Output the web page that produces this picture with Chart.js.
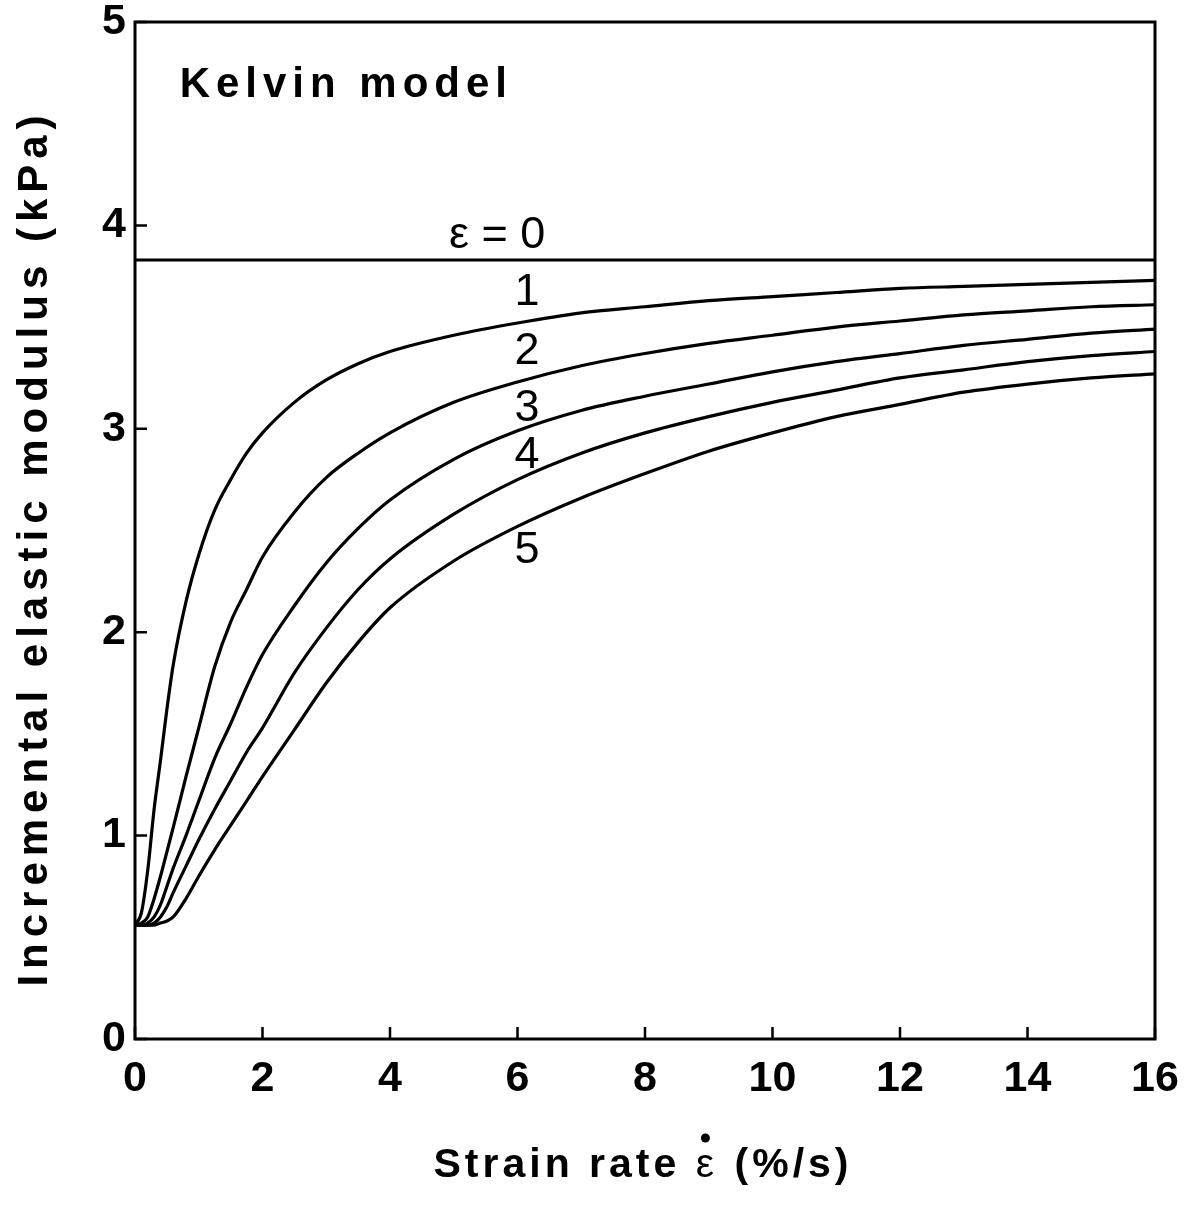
<!DOCTYPE html>
<html>
<head>
<meta charset="utf-8">
<title>Kelvin model</title>
<script src="https://cdn.jsdelivr.net/npm/chart.js@4.4.1/dist/chart.umd.min.js"></script>
<style>
	html, body { margin: 0; padding: 0; background: #ffffff; }
	#wrap { width: 1201px; height: 1206px; }
</style>
</head>
<body>
<div id="wrap"><canvas id="chart" width="1201" height="1206"></canvas></div>
<script>
(function () {
	'use strict';

	// strain rate (%/s)
	var strainRates = [0, 0.1, 0.2, 0.3, 0.4, 0.5, 0.6, 0.8, 1, 1.25, 1.5, 1.75, 2, 2.5, 3, 3.5, 4, 5, 6, 7, 8, 9, 10, 11, 12, 13, 14, 15, 16];

	// incremental elastic modulus (kPa), one list per strain
	var modulusStrain0 = [3.83, 3.83, 3.83, 3.83, 3.83, 3.83, 3.83, 3.83, 3.83, 3.83, 3.83, 3.83, 3.83, 3.83, 3.83, 3.83, 3.83, 3.83, 3.83, 3.83, 3.83, 3.83, 3.83, 3.83, 3.83, 3.83, 3.83, 3.83, 3.83];
	var modulusStrain1 = [0.56, 0.62, 0.83, 1.13, 1.37, 1.62, 1.84, 2.15, 2.38, 2.60, 2.75, 2.88, 2.98, 3.13, 3.24, 3.32, 3.38, 3.46, 3.52, 3.57, 3.60, 3.63, 3.65, 3.67, 3.69, 3.70, 3.71, 3.72, 3.73];
	var modulusStrain2 = [0.56, 0.57, 0.60, 0.69, 0.80, 0.92, 1.04, 1.29, 1.53, 1.83, 2.05, 2.21, 2.37, 2.59, 2.76, 2.88, 2.98, 3.13, 3.23, 3.31, 3.37, 3.42, 3.46, 3.50, 3.53, 3.56, 3.58, 3.60, 3.61];
	var modulusStrain3 = [0.56, 0.56, 0.57, 0.60, 0.66, 0.75, 0.84, 1.00, 1.17, 1.38, 1.55, 1.73, 1.89, 2.13, 2.34, 2.51, 2.65, 2.85, 2.99, 3.09, 3.16, 3.22, 3.28, 3.33, 3.37, 3.41, 3.44, 3.47, 3.49];
	var modulusStrain4 = [0.56, 0.56, 0.56, 0.57, 0.60, 0.65, 0.72, 0.85, 0.98, 1.13, 1.27, 1.41, 1.53, 1.80, 2.02, 2.21, 2.36, 2.58, 2.75, 2.88, 2.98, 3.06, 3.13, 3.19, 3.25, 3.29, 3.33, 3.36, 3.38];
	var modulusStrain5 = [0.56, 0.56, 0.56, 0.56, 0.57, 0.58, 0.60, 0.69, 0.80, 0.93, 1.05, 1.17, 1.29, 1.52, 1.75, 1.95, 2.12, 2.35, 2.52, 2.66, 2.78, 2.89, 2.98, 3.06, 3.12, 3.18, 3.22, 3.25, 3.27];

	var curveLabels = ['\u03B5 = 0', '1', '2', '3', '4', '5'];

	var xTitleLeft = 'Strain rate ';
	var xTitleSymbol = '\u03B5';
	var xTitleRight = ' (%/s)';
	var yTitle = 'Incremental elastic modulus (kPa)';
	var panelTitle = 'Kelvin model';

	var FONT = "'Liberation Sans', Arial, sans-serif";

	function toPoints(values) {
		return values.map(function (v, i) {
			return { x: strainRates[i], y: v };
		});
	}

	function lineDataset(label, values) {
		return {
			label: label,
			data: toPoints(values),
			borderColor: '#000000',
			borderWidth: 3.2,
			pointRadius: 0,
			fill: false,
			cubicInterpolationMode: 'monotone',
		};
	}

	// where each curve label sits, in data units
	var labelSpots = [
		{ x: 5.68, y: 3.84, base: 'bottom' },
		{ x: 6.15, y: 3.67, base: 'middle' },
		{ x: 6.15, y: 3.38, base: 'middle' },
		{ x: 6.15, y: 3.10, base: 'middle' },
		{ x: 6.15, y: 2.87, base: 'middle' },
		{ x: 6.15, y: 2.40, base: 'middle' },
	];

	var framePlugin = {
		id: 'frame',
		afterDraw: function (chart) {
			var ctx = chart.ctx;
			var area = chart.chartArea;
			var xs = chart.scales.x;
			var ys = chart.scales.y;

			ctx.save();
			ctx.strokeStyle = '#000000';
			ctx.lineWidth = 3;
			ctx.strokeRect(area.left, area.top, area.right - area.left, area.bottom - area.top);

			// inward tick marks
			ctx.lineWidth = 2.5;
			ctx.beginPath();
			xs.ticks.forEach(function (t) {
				var px = xs.getPixelForValue(t.value);
				ctx.moveTo(px, area.bottom);
				ctx.lineTo(px, area.bottom - 12);
			});
			ys.ticks.forEach(function (t) {
				var py = ys.getPixelForValue(t.value);
				ctx.moveTo(area.left, py);
				ctx.lineTo(area.left + 12, py);
			});
			ctx.stroke();

			// curve labels
			ctx.fillStyle = '#000000';
			ctx.font = '45px ' + FONT;
			ctx.textAlign = 'center';
			labelSpots.forEach(function (spot, i) {
				ctx.textBaseline = spot.base;
				ctx.fillText(curveLabels[i], xs.getPixelForValue(spot.x), ys.getPixelForValue(spot.y));
			});

			// panel title
			ctx.font = 'bold 42px ' + FONT;
			ctx.textAlign = 'left';
			ctx.textBaseline = 'middle';
			ctx.letterSpacing = '6px';
			ctx.fillText(panelTitle, xs.getPixelForValue(0.7), ys.getPixelForValue(4.69));

			// x axis title, with the rate dot over epsilon
			ctx.font = 'bold 41px ' + FONT;
			ctx.letterSpacing = '4px';
			var wLeft = ctx.measureText(xTitleLeft).width;
			var wSym = ctx.measureText(xTitleSymbol).width;
			var wRight = ctx.measureText(xTitleRight).width;
			var x0 = 643 - (wLeft + wSym + wRight) / 2;
			var yBase = 1166;
			ctx.fillText(xTitleLeft, x0, yBase);
			ctx.font = '41px ' + FONT;
			ctx.fillText(xTitleSymbol, x0 + wLeft, yBase);
			ctx.font = 'bold 41px ' + FONT;
			ctx.fillText(xTitleRight, x0 + wLeft + wSym, yBase);
			ctx.beginPath();
			ctx.arc(x0 + wLeft + (wSym - 4) / 2, yBase - 28, 4.5, 0, Math.PI * 2);
			ctx.fill();

			// y axis title
			ctx.textAlign = 'center';
			ctx.translate(35, 548);
			ctx.rotate(-Math.PI / 2);
			ctx.letterSpacing = '6px';
			ctx.font = 'bold 42px ' + FONT;
			ctx.fillText(yTitle, 0, 0);
			ctx.restore();
		},
	};

	new Chart(document.getElementById('chart'), {
		type: 'line',
		data: {
			datasets: [
				lineDataset(curveLabels[0], modulusStrain0),
				lineDataset(curveLabels[1], modulusStrain1),
				lineDataset(curveLabels[2], modulusStrain2),
				lineDataset(curveLabels[3], modulusStrain3),
				lineDataset(curveLabels[4], modulusStrain4),
				lineDataset(curveLabels[5], modulusStrain5),
			],
		},
		options: {
			responsive: false,
			animation: false,
			layout: {
				padding: { top: 22, right: 46, bottom: 0, left: 0 },
			},
			plugins: {
				legend: { display: false },
				tooltip: { enabled: false },
			},
			scales: {
				x: {
					type: 'linear',
					min: 0,
					max: 16,
					afterFit: function (scale) {
						scale.height = 167;
						scale.paddingLeft = 0;
						scale.paddingRight = 0;
					},
					grid: { display: false, drawTicks: false },
					border: { display: false },
					ticks: {
						stepSize: 2,
						padding: 14,
						color: '#000000',
						font: { family: FONT, size: 43, weight: 'bold' },
					},
				},
				y: {
					min: 0,
					max: 5,
					afterFit: function (scale) {
						scale.width = 135;
						scale.paddingTop = 0;
						scale.paddingBottom = 0;
					},
					grid: { display: false, drawTicks: false },
					border: { display: false },
					ticks: {
						stepSize: 1,
						padding: 9,
						color: '#000000',
						font: { family: FONT, size: 43, weight: 'bold' },
					},
				},
			},
		},
		plugins: [framePlugin],
	});
})();
</script>
</body>
</html>
